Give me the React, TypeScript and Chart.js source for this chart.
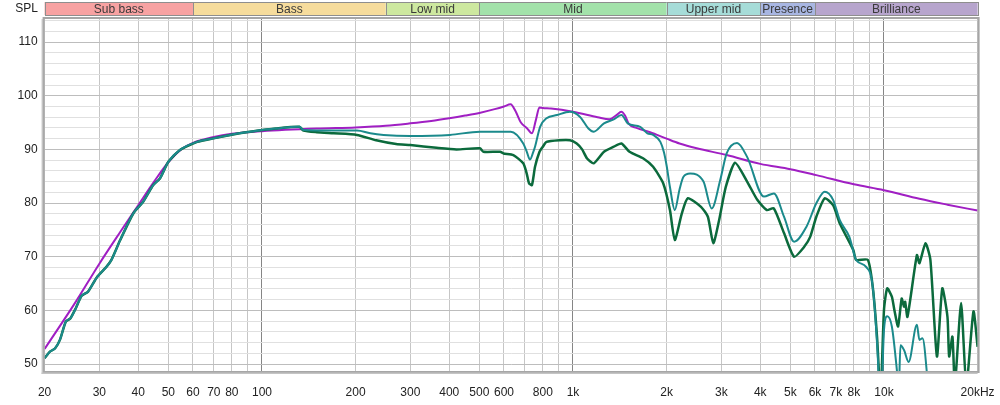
import React, { useEffect, useRef } from "react";
import { Chart, registerables } from "chart.js";

Chart.register(...registerables);

// ---------- data ----------
const targetFreq = [20, 25, 30, 35, 40, 45, 50, 55, 60, 70, 80, 100, 150, 200, 250, 300, 350, 400, 450, 500, 560, 600, 630, 655, 680, 710, 738, 760, 780, 800, 850, 1000, 1200, 1310, 1380, 1430, 1470, 1510, 1600, 1770, 2000, 2200, 2500, 3120, 4000, 5000, 6060, 8000, 10000, 13000, 16000, 20000];
const targetDb = [52.8, 61.3, 68.7, 74.6, 79.6, 84.0, 87.6, 90.0, 91.2, 92.3, 92.9, 93.4, 93.9, 94.1, 94.4, 94.85, 95.3, 95.8, 96.3, 96.8, 97.5, 98.0, 98.4, 97.0, 95.0, 94.0, 93.0, 95.5, 97.8, 97.7, 97.6, 97.0, 96.0, 95.6, 96.4, 97.0, 96.3, 94.8, 94.0, 93.2, 92.0, 91.1, 90.2, 88.95, 87.3, 86.3, 85.2, 83.5, 82.4, 80.8, 79.7, 78.6];

const smoothFreq = [20, 20.8, 21.6, 22.4, 23.4, 24.2, 25.2, 26.3, 27.6, 29.4, 31.6, 32.8, 35, 38.6, 41.5, 44.7, 47, 50, 54.5, 61.9, 69.8, 84.7, 93.9, 111, 132, 136, 170, 202, 223, 246, 300, 402, 502, 631, 692, 711, 727, 745, 755, 784, 822, 888, 978, 1054, 1121, 1166, 1258, 1352, 1432, 1500, 1645, 1735, 1810, 1910, 1960, 2000, 2050, 2125, 2200, 2266, 2380, 2628, 2793, 2975, 3120, 3370, 3630, 4114, 4425, 4770, 5140, 5634, 6060, 6450, 6860, 7210, 7740, 8140, 8760, 9200, 9540, 9750, 10000, 10240, 10600, 11000, 11150, 11300, 11600, 12000, 12760, 13000, 13300, 14000, 15000, 20000];
const smoothDb = [51.1, 52.3, 52.9, 54.5, 57.9, 58.5, 60.4, 62.7, 63.5, 66.1, 68.1, 69.4, 73.1, 78.1, 80.25, 83.35, 84.6, 87.7, 89.9, 91.4, 92.05, 93.0, 93.4, 93.9, 94.2, 93.6, 93.5, 93.5, 93.0, 92.7, 92.5, 92.7, 93.3, 93.3, 91.1, 89.5, 88.1, 89.5, 90.5, 94.2, 95.8, 96.4, 97.0, 96.05, 93.9, 93.3, 94.85, 95.6, 96.4, 94.85, 94.2, 93.0, 92.7, 91.4, 89.5, 87.0, 83.0, 78.7, 82.5, 84.9, 85.5, 84.0, 79.0, 84.3, 89.25, 91.2, 88.6, 81.2, 81.8, 77.45, 72.8, 75.6, 79.95, 82.1, 80.6, 76.8, 73.7, 69.4, 68.1, 64.4, 52.0, 40.0, 56.3, 58.9, 57.0, 48.9, 45.0, 53.5, 52.6, 50.4, 57.3, 54.5, 54.8, 44.0, 40.0, 40.0];

const rawFreq = [20, 20.8, 21.6, 22.4, 23.4, 24.2, 25.2, 26.3, 27.6, 29.4, 31.6, 32.8, 35, 38.6, 41.5, 44.7, 47, 50, 54.5, 61.9, 69.8, 84.7, 93.9, 111, 132, 136, 150, 170, 202, 233, 270, 300, 364, 422, 502, 515, 583, 598, 643, 692, 710, 722, 738, 755, 780, 800, 822, 905, 978, 1028, 1070, 1110, 1166, 1258, 1352, 1432, 1520, 1684, 1810, 1950, 2050, 2125, 2240, 2340, 2580, 2715, 2826, 2950, 3100, 3320, 3630, 3914, 4200, 4425, 4770, 5140, 5540, 5790, 6060, 6450, 6860, 7210, 7970, 8140, 8870, 9200, 9500, 9750, 10000, 10240, 10600, 10800, 11100, 11400, 11600, 11700, 11900, 12760, 13000, 13600, 14100, 14800, 15400, 16000, 16200, 16600, 16900, 17700, 18400, 19400, 20000];
const rawDb = [51.1, 52.3, 52.9, 54.5, 57.9, 58.5, 60.4, 62.7, 63.5, 66.1, 68.1, 69.4, 73.1, 78.1, 80.25, 83.35, 84.6, 87.7, 89.9, 91.4, 92.05, 93.0, 93.4, 93.9, 94.2, 93.5, 93.2, 93.0, 92.7, 91.7, 91.0, 90.8, 90.3, 90.0, 90.2, 89.55, 89.55, 89.25, 88.95, 87.4, 85.5, 83.7, 83.35, 86.75, 89.5, 90.5, 91.4, 91.7, 91.7, 91.1, 90.0, 88.3, 87.4, 89.55, 90.5, 91.1, 89.55, 88.3, 86.75, 83.7, 78.7, 73.1, 78.1, 80.9, 79.3, 77.45, 72.5, 76.8, 83.0, 87.5, 84.0, 80.6, 78.7, 79.0, 74.4, 70.0, 71.85, 73.7, 77.45, 80.9, 79.6, 76.2, 71.25, 69.4, 69.4, 64.4, 55.0, 44.0, 60.05, 64.1, 62.55, 60.05, 57.0, 62.2, 60.7, 61.6, 58.8, 70.3, 68.8, 72.5, 69.4, 51.4, 64.1, 58.8, 51.4, 55.1, 46.0, 61.35, 46.0, 59.8, 53.2];

const xGridValues = [20, 30, 40, 50, 60, 70, 80, 90, 100, 200, 300, 400, 500, 600, 700, 800, 900, 1000, 2000, 3000, 4000, 5000, 6000, 7000, 8000, 9000, 10000, 20000];
const xTickValues = [20, 30, 40, 50, 60, 70, 80, 100, 200, 300, 400, 500, 600, 800, 1000, 2000, 3000, 4000, 5000, 6000, 7000, 8000, 10000, 20000];
const xTickLabels = ["20", "30", "40", "50", "60", "70", "80", "100", "200", "300", "400", "500", "600", "800", "1k", "2k", "3k", "4k", "5k", "6k", "7k", "8k", "10k", "20kHz"];
const yGridValues = [50, 52, 54, 56, 58, 60, 62, 64, 66, 68, 70, 72, 74, 76, 78, 80, 82, 84, 86, 88, 90, 92, 94, 96, 98, 100, 102, 104, 106, 108, 110, 112, 114];

const bandNames = ["Sub bass", "Bass", "Low mid", "Mid", "Upper mid", "Presence", "Brilliance"];
const bandEdges = [20, 60, 250, 500, 2000, 4000, 6000, 20000];
const bandColors = ["#f7a2a2", "#f6dc9c", "#cde89f", "#a3e2aa", "#a6dcd8", "#a8b6e2", "#b7a5cd"];

const FONT = "'Liberation Sans', Arial, sans-serif";

const bandPlugin = {
  id: "bandsAndFrame",
  afterDraw(chart: any) {
    const { ctx, chartArea } = chart;
    const xs = chart.scales.x;
    const { left, right, top, bottom } = chartArea;
    ctx.save();
    // frame
    ctx.strokeStyle = "#a6a6a6";
    ctx.lineWidth = 2;
    ctx.strokeRect(left - 1, top - 1, right - left + 2, bottom - top + 2);
    ctx.fillStyle = "#c4c4c4";
    ctx.fillRect(left - 3, top, 1.5, bottom - top + 3);
    ctx.fillRect(left - 3, bottom + 1.5, right - left + 3, 1.5);
    // band bar
    const by = 2;
    const bh = 13;
    ctx.font = `12px ${FONT}`;
    ctx.textAlign = "center";
    ctx.textBaseline = "middle";
    for (let i = 0; i < bandNames.length; i++) {
      const x0 = xs.getPixelForValue(bandEdges[i]);
      const x1 = xs.getPixelForValue(bandEdges[i + 1]);
      ctx.fillStyle = bandColors[i];
      ctx.fillRect(x0, by, x1 - x0, bh);
      ctx.strokeStyle = "#8e8e8e";
      ctx.lineWidth = 1;
      ctx.strokeRect(Math.round(x0) + 0.5, by + 0.5, Math.round(x1) - Math.round(x0), bh);
      ctx.fillStyle = "#3a3a3a";
      ctx.fillText(bandNames[i], (x0 + x1) / 2, by + bh / 2 + 1);
    }
    // SPL label
    ctx.textAlign = "right";
    ctx.fillStyle = "#222";
    ctx.fillText("SPL", 38, 9);
    ctx.restore();
  },
};

export default function App() {
  const ref = useRef<HTMLCanvasElement | null>(null);

  useEffect(() => {
    document.body.style.margin = "0";
    const canvas = ref.current;
    if (!canvas) return;
    const toPts = (f: number[], d: number[]) => f.map((v, i) => ({ x: v, y: d[i] }));
    const chart = new Chart(canvas, {
      type: "line",
      data: {
        datasets: [
          {
            label: "smoothed",
            data: toPts(smoothFreq, smoothDb),
            borderColor: "#1b8a8c",
            borderWidth: 2,
            pointRadius: 0,
            cubicInterpolationMode: "monotone",
            fill: false,
          },
          {
            label: "measured",
            data: toPts(rawFreq, rawDb),
            borderColor: "#0b6a3c",
            borderWidth: 2.5,
            pointRadius: 0,
            tension: 0.2,
            fill: false,
          },
          {
            label: "target",
            data: toPts(targetFreq, targetDb),
            borderColor: "#a01fc3",
            borderWidth: 2,
            pointRadius: 0,
            cubicInterpolationMode: "monotone",
            fill: false,
          },
        ],
      },
      options: {
        animation: false,
        responsive: false,
        devicePixelRatio: 1,
        layout: { padding: { top: 19, right: 22.4, left: 0, bottom: 0 } },
        plugins: { legend: { display: false }, tooltip: { enabled: false } },
        elements: { point: { radius: 0 } },
        scales: {
          x: {
            type: "logarithmic",
            min: 20,
            max: 20000,
            afterBuildTicks: (s: any) => {
              s.ticks = xGridValues.map((v) => ({ value: v }));
            },
            afterFit: (s: any) => {
              s.height = 34;
            },
            ticks: {
              autoSkip: false,
              maxRotation: 0,
              minRotation: 0,
              padding: 3,
              color: "#222",
              font: { family: FONT, size: 12 },
              callback: (v: any) => {
                const i = xTickValues.indexOf(Number(v));
                return i >= 0 ? xTickLabels[i] : "";
              },
            },
            grid: {
              drawTicks: true,
              tickLength: 11,
              tickColor: "rgba(0,0,0,0)",
              lineWidth: 1,
              color: (c: any) => {
                const v = c.tick ? c.tick.value : 0;
                return v === 100 || v === 1000 || v === 10000 ? "#858585" : "#c6c6c6";
              },
            },
            border: { display: false },
          },
          y: {
            type: "linear",
            min: 48.7,
            max: 114.3,
            afterBuildTicks: (s: any) => {
              s.ticks = yGridValues.map((v) => ({ value: v }));
            },
            afterFit: (s: any) => {
              s.width = 44.6;
            },
            ticks: {
              autoSkip: false,
              padding: 7,
              color: "#222",
              font: { family: FONT, size: 12 },
              callback: (v: any) => (Number(v) % 10 === 0 ? String(v) : ""),
            },
            grid: {
              drawTicks: false,
              lineWidth: 1,
              color: (c: any) => {
                const v = c.tick ? c.tick.value : 0;
                return v % 10 === 0 ? "#bdbdbd" : "#e0e0e0";
              },
            },
            border: { display: false },
          },
        },
      } as any,
      plugins: [bandPlugin],
    });
    return () => chart.destroy();
  }, []);

  return (
    <div style={{ width: 1000, height: 405, background: "#fff" }}>
      <canvas ref={ref} width={1000} height={405} style={{ display: "block" }} />
    </div>
  );
}
